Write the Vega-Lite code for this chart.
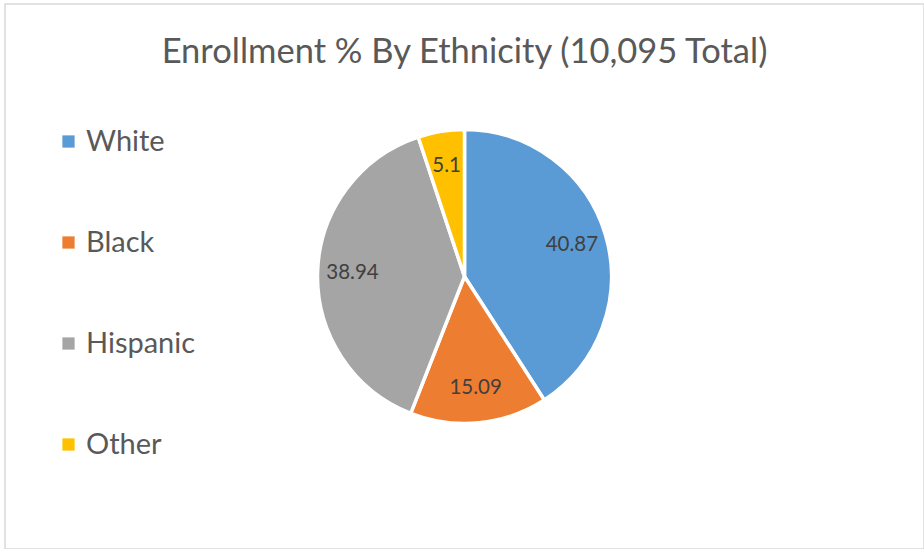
{
  "$schema": "https://vega.github.io/schema/vega-lite/v6.json",
  "autosize": {"type": "none"},
  "padding": {"left": 5, "top": 4, "right": 0, "bottom": 0},
  "width": 919,
  "height": 545,
  "background": "white",
  "config": {
    "view": {"stroke": null},
    "font": "Lato"
  },
  "title": {
    "text": "Enrollment % By Ethnicity (10,095 Total)",
    "anchor": "middle",
    "offset": -67,
    "fontSize": 34.5,
    "fontWeight": "normal",
    "color": "#595959",
    "font": "Lato"
  },
  "layer": [
    {
      "data": {"values": [{"Frame": "chart area"}]},
      "mark": {"type": "rect", "fill": null, "stroke": "#d9d9d9", "strokeWidth": 1.5},
      "encoding": {}
    },
    {
      "data": {
        "values": [
          {"Ethnicity": "White", "Percent": 40.87, "Order": 1},
          {"Ethnicity": "Black", "Percent": 15.09, "Order": 2},
          {"Ethnicity": "Hispanic", "Percent": 38.94, "Order": 3},
          {"Ethnicity": "Other", "Percent": 5.1, "Order": 4}
        ]
      },
      "encoding": {
        "theta": {"field": "Percent", "type": "quantitative", "stack": true},
        "order": {"field": "Order", "type": "quantitative", "sort": "ascending"}
      },
      "layer": [
        {
          "mark": {"type": "arc", "outerRadius": 147, "stroke": "white", "strokeWidth": 3.5},
          "encoding": {
            "color": {
              "field": "Ethnicity",
              "type": "nominal",
              "sort": ["White", "Black", "Hispanic", "Other"],
              "scale": {
                "domain": ["White", "Black", "Hispanic", "Other"],
                "range": ["#5b9bd5", "#ed7d31", "#a5a5a5", "#ffc000"]
              },
              "legend": {
                "orient": "none",
                "legendX": 49,
                "legendY": 123,
                "title": null,
                "padding": 0,
                "symbolType": "square",
                "symbolSize": 150,
                "symbolStrokeWidth": 0,
                "labelFontSize": 29,
                "labelFont": "Lato",
                "labelColor": "#595959",
                "labelOffset": 3,
                "rowPadding": 71
              }
            }
          }
        },
        {
          "mark": {"type": "text", "radius": 112, "fontSize": 20.5, "font": "Lato", "color": "#404040"},
          "encoding": {
            "text": {"field": "Percent", "type": "quantitative"}
          }
        }
      ]
    }
  ]
}
